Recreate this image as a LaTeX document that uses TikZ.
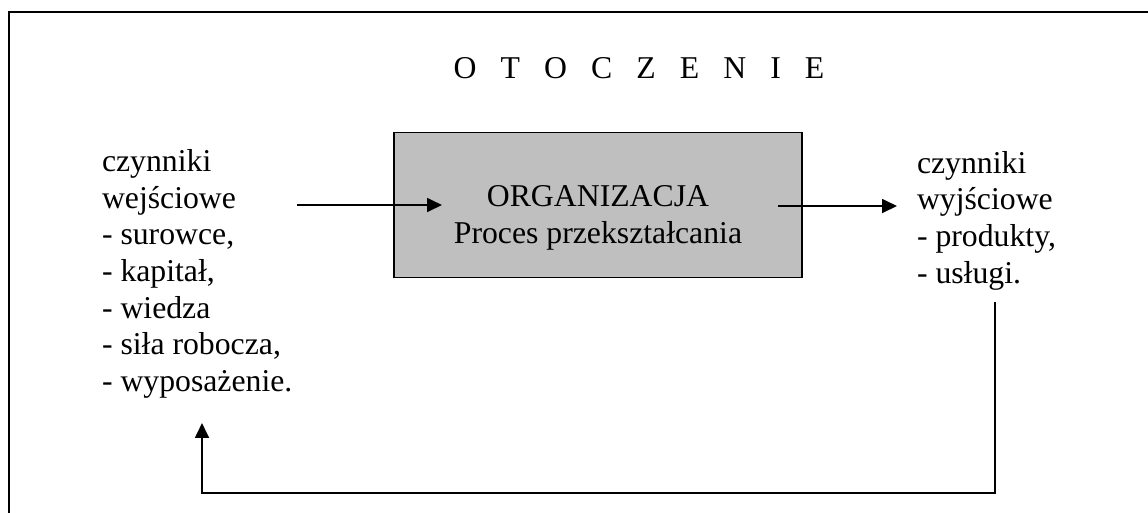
\documentclass[tikz,border=0pt]{standalone}
\usepackage{fontspec}
\setmainfont{Liberation Serif}
\usetikzlibrary{arrows.meta}
\newcommand\lettergap{\hspace{9.1pt}}
\begin{document}
\begin{tikzpicture}[x=0.378pt,y=-0.378pt,
  every node/.style={inner sep=0pt, outer sep=0pt,
    font=\fontsize{12}{13.8}\selectfont},
  frame/.style={line width=0.8pt, draw=black},
  procbox/.style={draw=black, line width=0.6pt, fill=black!25,
    minimum width=154.2pt, minimum height=54.8pt},
  txt/.style={align=left, anchor=base west},
  flow/.style={line width=0.75pt, -{Triangle[length=5.6pt,width=5.2pt]}}]
\useasboundingbox (0,0) rectangle (1148,512);
\clip (0,0) rectangle (1148,512);
% outer frame, running off the right and bottom edges
\draw[frame] (9,540) -- (9,12) -- (1170,12);
% letter-spaced heading
\node[anchor=base] (title) at (639,78)
  {O\lettergap T\lettergap O\lettergap C\lettergap Z\lettergap E\lettergap N\lettergap I\lettergap E};
% central process box (base anchor of a multi-line node sits on its last line)
\node[procbox] (proc) at (598,205) {};
\node[align=center, anchor=base] (proctext) at (598,243)
  {ORGANIZACJA\\Proces przekształcania};
% inputs and outputs
\node[txt] (intext) at (102,391)
  {czynniki\\wejściowe\\- surowce,\\- kapitał,\\- wiedza\\- siła robocza,\\- wyposażenie.};
\node[txt] (outtext) at (917,283)
  {czynniki\\wyjściowe\\- produkty,\\- usługi.};
% arrows
\coordinate (inA) at (297,205);
\coordinate (inB) at (442,205);
\coordinate (outA) at (778,206);
\coordinate (outB) at (897,206);
\draw[flow] (inA) -- (inB);
\draw[flow] (outA) -- (outB);
% feedback loop
\coordinate (fbA) at (995,302);
\coordinate (fbB) at (202,423);
\draw[flow] (fbA) -- (995,493) -| (fbB);
\end{tikzpicture}
\end{document}
